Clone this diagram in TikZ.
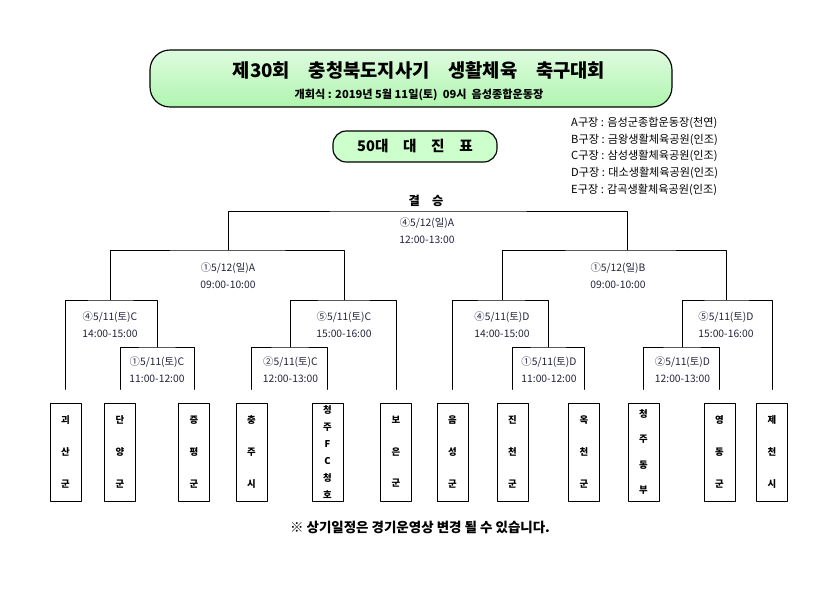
\documentclass[tikz,border=0pt]{standalone}
\usepackage{fontspec}
\setmainfont{Noto Sans CJK KR}
\usetikzlibrary{positioning,calc}
\definecolor{bannergreen}{RGB}{175,245,175}
\definecolor{boxgreen}{RGB}{205,255,205}
\definecolor{labelc}{RGB}{35,35,60}
\tikzset{
  teambox/.style={draw, line width=0.8pt, minimum width=0.93cm, minimum height=2.94cm,
    inner sep=0pt, align=center, font=\bfseries\fontsize{8}{27}\selectfont},
  matchlbl/.style={align=center, text=labelc, inner sep=0pt,
    font=\fontsize{8.8}{14.5}\selectfont},
  bracket/.style={line width=0.7pt},
  tobox/.style={bracket, shorten <=0.39cm},
  bothbox/.style={bracket, shorten <=0.39cm, shorten >=0.39cm}
}

\begin{document}
\begin{tikzpicture}[x=0.03cm, y=-0.03cm, line cap=round, line join=round]
  \useasboundingbox (0,0) rectangle (835,589);

  % title banner
  \draw[line width=1pt, rounded corners=0.6cm, top color=white!60!bannergreen,
    bottom color=bannergreen]
    (150,50) rectangle (672,107);
  \node[font=\bfseries\fontsize{16}{18}\selectfont] (title) at (419,70)
    {제30회\quad 충청북도지사기\quad 생활체육\quad 축구대회};
  \node[font=\bfseries\fontsize{9.5}{11}\selectfont] (opening) at (419,95)
    {개회식 : 2019년 5월 11일(토)\ \ 09시\ \ 음성종합운동장};

  % group box
  \node[draw, line width=1pt, rounded corners=0.4cm, fill=boxgreen,
    minimum width=4.92cm, minimum height=0.93cm,
    font=\bfseries\fontsize{12.5}{14}\selectfont] (group) at (415,146.5)
    {50대\quad 대\quad 진\quad 표};

  % venues
  \node[anchor=north west, align=left, inner sep=0pt,
    font=\fontsize{9.5}{14.2}\selectfont] (venues) at (571,117)
    {A구장 : 음성군종합운동장(천연)\\
     B구장 : 금왕생활체육공원(인조)\\
     C구장 : 삼성생활체육공원(인조)\\
     D구장 : 대소생활체육공원(인조)\\
     E구장 : 감곡생활체육공원(인조)};

  % teams
  \node[teambox] (t1)  at (65.5,452)  {괴\\산\\군};
  \node[teambox] (t2)  at (120,452)   {단\\양\\군};
  \node[teambox] (t3)  at (194,452)   {증\\평\\군};
  \node[teambox] (t4)  at (251.5,452) {충\\주\\시};
  \node[teambox, font=\bfseries\fontsize{8}{14.6}\selectfont] (t5) at (327.5,452)
    {청\\주\\F\\C\\청\\호};
  \node[teambox] (t6)  at (396,452)   {보\\은\\군};
  \node[teambox] (t7)  at (452.5,452) {음\\성\\군};
  \node[teambox] (t8)  at (512.5,452) {진\\천\\군};
  \node[teambox] (t9)  at (584,452)   {옥\\천\\군};
  \node[teambox, font=\bfseries\fontsize{8}{21.7}\selectfont] (t10) at (643.5,452)
    {청\\주\\동\\부};
  \node[teambox] (t11) at (719.5,452) {영\\동\\군};
  \node[teambox] (t12) at (772,452)   {제\\천\\시};

  % bracket junctions
  \coordinate (m1) at (157,347);
  \coordinate (m2) at (290.5,347);
  \coordinate (m3) at (548.5,347);
  \coordinate (m4) at (682.5,347);
  \coordinate (q1) at (110,300);
  \coordinate (q2) at (344,300);
  \coordinate (q3) at (502,300);
  \coordinate (q4) at (726,300);
  \coordinate (s1) at (228,250);
  \coordinate (s2) at (627,250);
  \coordinate (f)  at (428.5,211);

  % first round
  \draw[bothbox] (t2.north) |- (m1) -| (t3.north);
  \draw[bothbox] (t4.north) |- (m2) -| (t5.north);
  \draw[bothbox] (t8.north) |- (m3) -| (t9.north);
  \draw[bothbox] (t10.north) |- (m4) -| (t11.north);

  % second round
  \draw[tobox] (t1.north) |- (q1) -| (m1);
  \draw[tobox] (t6.north) |- (q2) -| (m2);
  \draw[tobox] (t7.north) |- (q3) -| (m3);
  \draw[tobox] (t12.north) |- (q4) -| (m4);

  % semifinals and final
  \draw[bracket] (q1) |- (s1) -| (q2);
  \draw[bracket] (q3) |- (s2) -| (q4);
  \draw[bracket] (s1) |- (f) -| (s2);

  % match labels
  \node[matchlbl] (lm1) at (157,369.5)   {①5/11(토)C\\11:00-12:00};
  \node[matchlbl] (lm2) at (290.5,369.5) {②5/11(토)C\\12:00-13:00};
  \node[matchlbl] (lm3) at (549,369.5)   {①5/11(토)D\\11:00-12:00};
  \node[matchlbl] (lm4) at (682.5,369.5) {②5/11(토)D\\12:00-13:00};
  \node[matchlbl] (lq1) at (110,324.5)   {④5/11(토)C\\14:00-15:00};
  \node[matchlbl] (lq2) at (344,324.5)   {⑤5/11(토)C\\15:00-16:00};
  \node[matchlbl] (lq3) at (502,324.5)   {④5/11(토)D\\14:00-15:00};
  \node[matchlbl] (lq4) at (726,324.5)   {⑤5/11(토)D\\15:00-16:00};
  \node[matchlbl] (ls1) at (228,275.5)   {①5/12(일)A\\09:00-10:00};
  \node[matchlbl] (ls2) at (618,275.5)   {①5/12(일)B\\09:00-10:00};
  \node[matchlbl] (lf)  at (427,231)     {④5/12(일)A\\12:00-13:00};
  \node[font=\bfseries\fontsize{10.5}{12}\selectfont] (final) at (426,201) {결\quad 승};

  % note
  \node[font=\bfseries\fontsize{11.5}{13}\selectfont] (note) at (420,527)
    {※ 상기일정은 경기운영상 변경 될 수 있습니다.};
\end{tikzpicture}
\end{document}
